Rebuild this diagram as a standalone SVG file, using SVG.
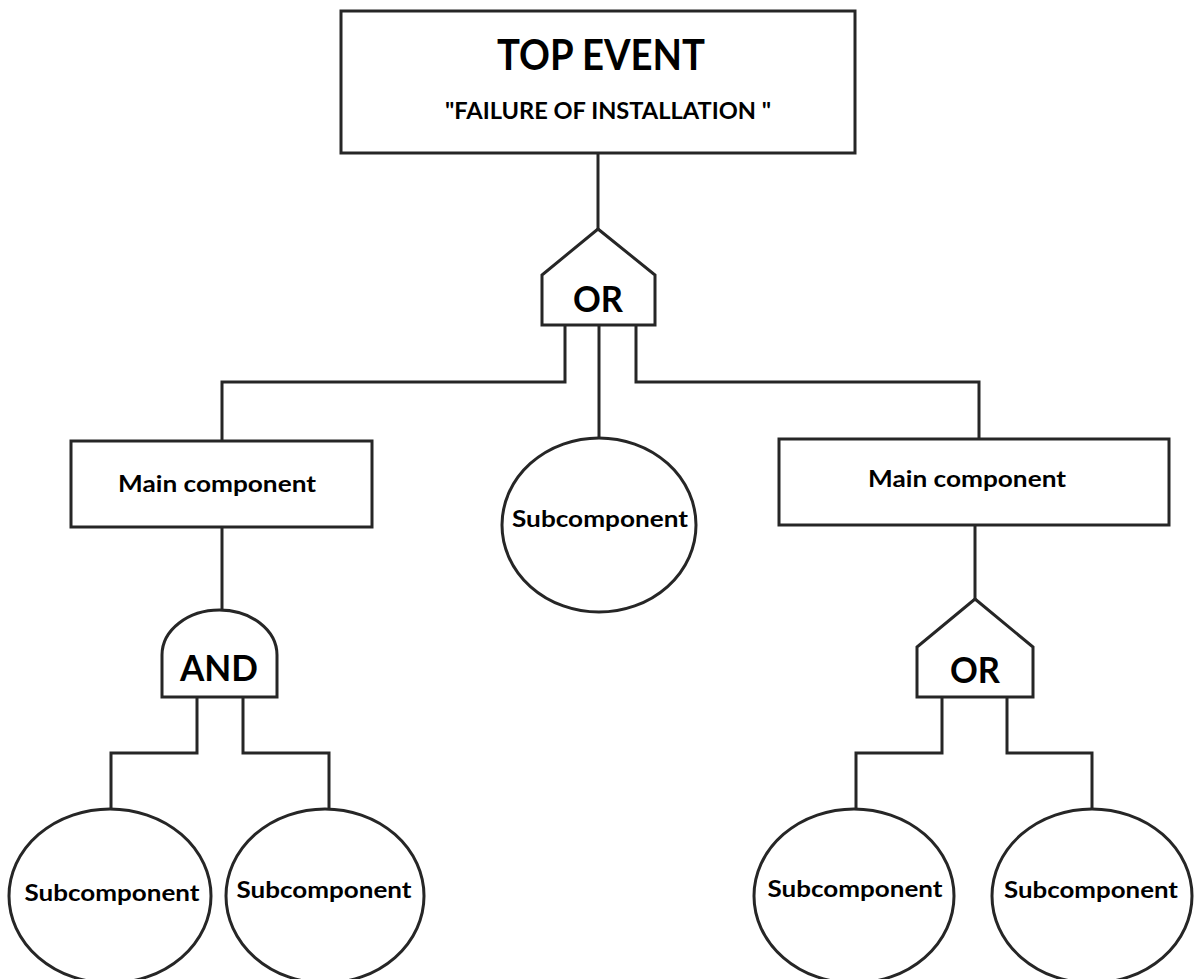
<svg xmlns="http://www.w3.org/2000/svg" width="1195" height="979" viewBox="0 0 1195 979">
  <style>
    .shape { fill: #ffffff; stroke: #262626; stroke-width: 3; }
    .wire { fill: none; stroke: #262626; stroke-width: 3; }
    .lbl { font-family: "Lato", "Liberation Sans", sans-serif; font-weight: 700; fill: #000000; text-anchor: middle; }
    .sub { font-size: 22px; }
    .main { font-size: 22px; }
    .gate { font-size: 36px; }
  </style>
  <rect width="1195" height="979" fill="#ffffff"/>

  <!-- connectors -->
  <g id="connectors">
    <path class="wire" d="M598,153 V229"/>
    <path class="wire" d="M565,325 V382 H222 V442"/>
    <path class="wire" d="M599,325 V438"/>
    <path class="wire" d="M636,325 V382 H979 V439"/>
    <path class="wire" d="M222,527 V611"/>
    <path class="wire" d="M197,697 V753 H111 V810"/>
    <path class="wire" d="M243,697 V753 H329 V810"/>
    <path class="wire" d="M975,525 V599"/>
    <path class="wire" d="M942,697 V753 H856 V810"/>
    <path class="wire" d="M1007,697 V753 H1092 V810"/>
  </g>

  <!-- top event -->
  <g id="top-event">
    <rect class="shape" x="341" y="11" width="514" height="142"/>
    <text class="lbl" x="601" y="70" font-size="42" textLength="208" lengthAdjust="spacingAndGlyphs">TOP EVENT</text>
    <text class="lbl" x="608" y="119" font-size="22" textLength="326" lengthAdjust="spacingAndGlyphs">"FAILURE OF INSTALLATION "</text>
  </g>

  <!-- OR gate under top event -->
  <g id="or-gate-top">
    <path class="shape" d="M598,229 L655,275 V325 H542 V275 Z"/>
    <text class="lbl gate" x="598" y="312" textLength="50" lengthAdjust="spacingAndGlyphs">OR</text>
  </g>

  <!-- left main component -->
  <g id="main-left">
    <rect class="shape" x="71" y="441" width="301" height="86"/>
    <text class="lbl main" x="217" y="492" textLength="198" lengthAdjust="spacingAndGlyphs">Main component</text>
  </g>

  <!-- centre subcomponent -->
  <g id="sub-centre">
    <ellipse class="shape" cx="599" cy="525" rx="97" ry="87"/>
    <text class="lbl sub" x="600" y="527" textLength="176" lengthAdjust="spacingAndGlyphs">Subcomponent</text>
  </g>

  <!-- right main component -->
  <g id="main-right">
    <rect class="shape" x="779" y="439" width="390" height="86"/>
    <text class="lbl main" x="967" y="487" textLength="198" lengthAdjust="spacingAndGlyphs">Main component</text>
  </g>

  <!-- AND gate -->
  <g id="and-gate">
    <path class="shape" d="M162,697 V655 A57.5,45 0 0 1 277,655 V697 Z"/>
    <text class="lbl gate" x="219" y="681" textLength="78" lengthAdjust="spacingAndGlyphs">AND</text>
  </g>

  <!-- right OR gate -->
  <g id="or-gate-right">
    <path class="shape" d="M975,599 L1033,647 V697 H917 V647 Z"/>
    <text class="lbl gate" x="975" y="683" textLength="50" lengthAdjust="spacingAndGlyphs">OR</text>
  </g>

  <!-- bottom subcomponents (lower edges run past the canvas) -->
  <g id="sub-1">
    <ellipse class="shape" cx="110" cy="896" rx="101" ry="87"/>
    <text class="lbl sub" x="112" y="901" textLength="175" lengthAdjust="spacingAndGlyphs">Subcomponent</text>
  </g>
  <g id="sub-2">
    <ellipse class="shape" cx="325" cy="896" rx="99" ry="87"/>
    <text class="lbl sub" x="324" y="898" textLength="175" lengthAdjust="spacingAndGlyphs">Subcomponent</text>
  </g>
  <g id="sub-3">
    <ellipse class="shape" cx="854" cy="896" rx="100" ry="87"/>
    <text class="lbl sub" x="855" y="897" textLength="175" lengthAdjust="spacingAndGlyphs">Subcomponent</text>
  </g>
  <g id="sub-4">
    <ellipse class="shape" cx="1092" cy="896" rx="100" ry="87"/>
    <text class="lbl sub" x="1091" y="898" textLength="174" lengthAdjust="spacingAndGlyphs">Subcomponent</text>
  </g>
</svg>
